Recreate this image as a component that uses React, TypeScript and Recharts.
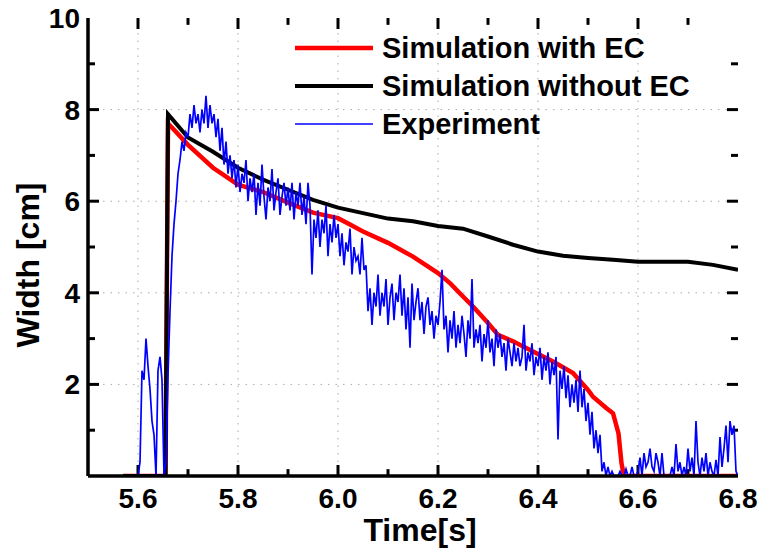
import React from "react";
import { LineChart, Line, XAxis, YAxis, CartesianGrid, Legend, Label, ReferenceLine } from "recharts";

const FONT = '"Liberation Sans", Arial, sans-serif';

// Simulation with EC (red)
const withEcTime = [
  5.57, 5.655, 5.66, 5.7, 5.75, 5.8, 5.85, 5.9, 5.95, 6.0, 6.024, 6.05, 6.1, 6.15,
  6.175, 6.2, 6.225, 6.25, 6.27, 6.3, 6.32, 6.35, 6.39, 6.43, 6.47, 6.5, 6.51,
  6.537, 6.55, 6.561, 6.567, 6.572, 6.8,
];
const withEcWidth = [
  0, 0, 7.7, 7.23, 6.73, 6.36, 6.2, 5.97, 5.75, 5.63, 5.49, 5.34, 5.09, 4.79,
  4.61, 4.43, 4.2, 3.92, 3.7, 3.34, 3.08, 2.94, 2.72, 2.5, 2.25, 1.88, 1.73,
  1.48, 1.37, 0.93, 0.28, 0, 0,
];

// Simulation without EC (black)
const withoutEcTime = [
  5.57, 5.655, 5.66, 5.7, 5.75, 5.8, 5.85, 5.9, 5.95, 6.0, 6.05, 6.1, 6.15, 6.2,
  6.25, 6.3, 6.35, 6.4, 6.45, 6.5, 6.55, 6.6, 6.65, 6.7, 6.75, 6.8,
];
const withoutEcWidth = [
  0, 0, 7.9, 7.39, 7.08, 6.73, 6.47, 6.25, 6.03, 5.86, 5.74, 5.62, 5.56, 5.46,
  5.4, 5.23, 5.05, 4.9, 4.81, 4.76, 4.72, 4.68, 4.68, 4.68, 4.61, 4.5,
];

// Experiment (blue), one sample every 4 ms starting at 5.600 s
const expStart = 5.6;
const expStep = 0.004;
const expWidth = [
  0, 0.3, 2.3, 2.1, 3.0, 2.4, 1.9, 1.2, 0.9, 0,
  2.3, 2.6, 2.1, 0, 0.3, 2.2, 3.6, 4.8, 5.5, 6.0,
  6.6, 6.9, 7.3, 7.1, 7.5, 7.4, 7.9, 7.6, 8.1, 7.7,
  7.9, 7.5, 8.0, 7.7, 8.3, 7.6, 8.1, 7.7, 7.9, 7.4,
  7.8, 7.1, 7.6, 6.8, 7.3, 6.6, 7.0, 6.5, 6.9, 6.3,
  6.8, 6.2, 6.6, 6.4, 6.9, 6.0, 6.5, 6.2, 6.6, 5.7,
  6.4, 5.9, 6.8, 6.1, 5.6, 6.3, 6.0, 6.7, 5.8, 6.2,
  6.5, 5.7, 6.1, 6.4, 5.9, 6.3, 5.8, 6.4, 5.6, 6.2,
  5.9, 6.4, 5.7, 6.1, 5.5, 6.4, 5.9, 4.4, 5.6, 5.2,
  5.8, 5.0, 5.6, 5.3, 5.9, 4.8, 5.5, 5.1, 5.7, 5.2,
  5.5, 4.8, 5.3, 4.6, 5.1, 4.9, 5.4, 4.4, 5.0, 4.7,
  4.8, 4.4, 5.2, 4.5, 4.6, 3.6, 4.1, 3.3, 4.0, 3.7,
  4.4, 3.5, 4.0, 3.7, 4.3, 3.3, 3.9, 4.2, 3.4, 4.0,
  3.8, 4.4, 3.5, 4.1, 3.2, 3.9, 2.8, 4.2, 3.4, 3.8,
  4.1, 3.4, 3.8, 3.1, 3.7, 3.9, 3.3, 3.6, 3.0, 3.5,
  3.3, 3.8, 4.5, 3.2, 3.5, 2.7, 3.4, 3.0, 3.6, 2.8,
  3.3, 2.9, 3.5, 3.1, 2.6, 3.4, 3.0, 4.3, 2.8, 3.2,
  2.9, 3.3, 2.5, 3.1, 2.8, 3.4, 2.7, 3.0, 2.4, 3.2,
  2.8, 3.1, 2.6, 2.9, 2.3, 3.0, 2.7, 2.4, 2.9, 2.5,
  2.8, 2.4, 2.6, 3.3, 2.3, 2.7, 2.5, 2.9, 2.2, 2.6,
  2.4, 2.8, 2.1, 2.6, 2.3, 2.7, 2.0, 2.5, 2.2, 2.6,
  0.8, 2.3, 1.9, 2.4, 1.7, 2.2, 1.5, 2.0, 1.6, 2.1,
  1.4, 2.3, 1.5, 1.9, 1.2, 1.6, 0.9, 1.4, 0.6, 1.0,
  0.5, 0.9, 0.1, 0.3, 0, 0.2, 0, 0.1, 0, 0,
  0, 0.1, 0, 0, 0.15, 0, 0, 0.2, 0, 0,
  0.1, 0.4, 0, 0.5, 0.2, 0.3, 0.6, 0.2, 0.1, 0.5,
  0.3, 0, 0.5, 0, 0, 0, 0, 0.2, 0, 0.7,
  0.1, 0.3, 0, 0.2, 0, 0.6, 0.1, 0.4, 0, 1.2,
  0.3, 0, 0.4, 0.1, 0.5, 0, 0.3, 0.1, 0, 0.35,
  0, 0.85, 0.2, 0.6, 1.1, 0.3, 1.2, 0.9, 1.1, 0.1,
  0,
];

const xTicks = [5.6, 5.7, 5.8, 5.9, 6.0, 6.1, 6.2, 6.3, 6.4, 6.5, 6.6, 6.7, 6.8];
const yTicks = [1, 2, 3, 4, 5, 6, 7, 8, 9, 10];
const xGrid = [5.6, 5.8, 6.0, 6.2, 6.4, 6.6];
const yGrid = [2, 4, 6, 8];

const series = [
  { name: "Simulation with EC", color: "#ff0000", width: 4.5 },
  { name: "Simulation without EC", color: "#000000", width: 4 },
  { name: "Experiment", color: "#0000ff", width: 1.7 },
];

const X_MIN = 5.5;
const X_MAX = 6.8;
const Y_MIN = 0;
const Y_MAX = 10;

const withEc = withEcTime.map((t, i) => ({ t, w: withEcWidth[i] }));
const withoutEc = withoutEcTime.map((t, i) => ({ t, w: withoutEcWidth[i] }));
const experiment = expWidth.map((w, i) => ({ t: expStart + i * expStep, w }));

const isMajorX = (v: number) => Math.round(v * 10) % 2 === 0;
const isMajorY = (v: number) => v % 2 === 0;

// inward tick marks as short segments (lengths in axis units: ~11px major, ~7px minor)
const xTickSegs = xTicks
  .filter((v) => v < X_MAX)
  .flatMap((v) => {
    const len = isMajorX(v) ? 0.24 : 0.15;
    return [
      [{ x: v, y: Y_MIN }, { x: v, y: Y_MIN + len }],
      [{ x: v, y: Y_MAX }, { x: v, y: Y_MAX - len }],
    ];
  });
const yTickSegs = yTicks
  .filter((v) => v < Y_MAX)
  .flatMap((v) => {
    const len = isMajorY(v) ? 0.022 : 0.014;
    return [
      [{ x: X_MIN, y: v }, { x: X_MIN + len, y: v }],
      [{ x: X_MAX, y: v }, { x: X_MAX - len, y: v }],
    ];
  });

const MARGIN = 10;
const textStyle = { fill: "#000", fontSize: 28, fontWeight: 700, fontFamily: FONT };
const axisLine = { stroke: "#000", strokeWidth: 3.5 };

const bottomTick = (props: any) => {
  const { x, y, payload } = props;
  const v = payload.value as number;
  if (!isMajorX(v)) return <g />;
  return (
    <text x={x} y={y + 2} dy="0.71em" textAnchor="middle" style={textStyle}>
      {v.toFixed(1)}
    </text>
  );
};

const leftTick = (props: any) => {
  const { x, y, payload } = props;
  const v = payload.value as number;
  if (!isMajorY(v)) return <g />;
  return (
    <text x={x + 2} y={y} dy="0.36em" textAnchor="end" style={textStyle}>
      {String(v)}
    </text>
  );
};

const renderLegend = (props: any) => {
  const { payload = [] } = props;
  return (
    <div style={{ fontFamily: FONT, fontWeight: 700, fontSize: 29, color: "#000" }}>
      {series.map((s) => {
        const entry = payload.find((p: any) => p.value === s.name);
        if (!entry) return null;
        return (
          <div key={s.name} style={{ display: "flex", alignItems: "center", height: 38 }}>
            <svg width={78} height={10}>
              <line x1={0} y1={5} x2={78} y2={5} stroke={entry.color} strokeWidth={s.width} />
            </svg>
            <span style={{ marginLeft: 9, whiteSpace: "nowrap" }}>{entry.value}</span>
          </div>
        );
      })}
    </div>
  );
};

export default function App() {
  return (
    <div style={{ position: "absolute", left: 0, top: 0 }}>
      <LineChart width={762} height={551} margin={{ top: 18, right: 24, bottom: 0, left: 0 }}>
        <CartesianGrid
          horizontalValues={yGrid}
          verticalValues={xGrid}
          stroke="#aaa"
          strokeDasharray="1.5 6"
        />
        <XAxis
          dataKey="t"
          type="number"
          domain={[X_MIN, X_MAX]}
          ticks={xTicks}
          interval={0}
          height={75}
          axisLine={axisLine}
          tickLine={false}
          tickSize={0}
          tickMargin={MARGIN}
          tick={bottomTick}
          allowDataOverflow
        >
          <Label
            value="Time[s]"
            position="insideBottom"
            offset={10}
            dx={7}
            style={{ fill: "#000", fontSize: 32, fontWeight: 700, fontFamily: FONT }}
          />
        </XAxis>
        <XAxis
          xAxisId="top"
          orientation="top"
          type="number"
          domain={[X_MIN, X_MAX]}
          height={0}
          axisLine={axisLine}
          tickLine={false}
          tick={false}
          allowDataOverflow
        />
        <YAxis
          type="number"
          domain={[Y_MIN, Y_MAX]}
          ticks={yTicks}
          interval={0}
          width={88}
          axisLine={axisLine}
          tickLine={false}
          tickSize={0}
          tickMargin={MARGIN}
          tick={leftTick}
          allowDataOverflow
        >
          <Label
            value="Width [cm]"
            position="center"
            angle={-90}
            dx={-16}
            dy={18}
            style={{ fill: "#000", fontSize: 32, fontWeight: 700, fontFamily: FONT }}
          />
        </YAxis>
        <YAxis
          yAxisId="right"
          orientation="right"
          type="number"
          domain={[Y_MIN, Y_MAX]}
          width={0}
          axisLine={axisLine}
          tickLine={false}
          tick={false}
          allowDataOverflow
        />
        {xTickSegs.map((seg, i) => (
          <ReferenceLine key={`xt${i}`} segment={seg} stroke="#000" strokeWidth={3} ifOverflow="visible" />
        ))}
        {yTickSegs.map((seg, i) => (
          <ReferenceLine key={`yt${i}`} segment={seg} stroke="#000" strokeWidth={3} ifOverflow="visible" />
        ))}
        <Legend
          layout="vertical"
          align="center"
          verticalAlign="middle"
          content={renderLegend}
          wrapperStyle={{ left: 295, top: 29, width: "auto" }}
        />
        <Line
          data={withEc}
          dataKey="w"
          name={series[0].name}
          stroke={series[0].color}
          strokeWidth={series[0].width}
          dot={false}
          isAnimationActive={false}
        />
        <Line
          data={withoutEc}
          dataKey="w"
          name={series[1].name}
          stroke={series[1].color}
          strokeWidth={series[1].width}
          dot={false}
          isAnimationActive={false}
        />
        <Line
          data={experiment}
          dataKey="w"
          name={series[2].name}
          stroke={series[2].color}
          strokeWidth={series[2].width}
          dot={false}
          isAnimationActive={false}
        />
      </LineChart>
    </div>
  );
}
